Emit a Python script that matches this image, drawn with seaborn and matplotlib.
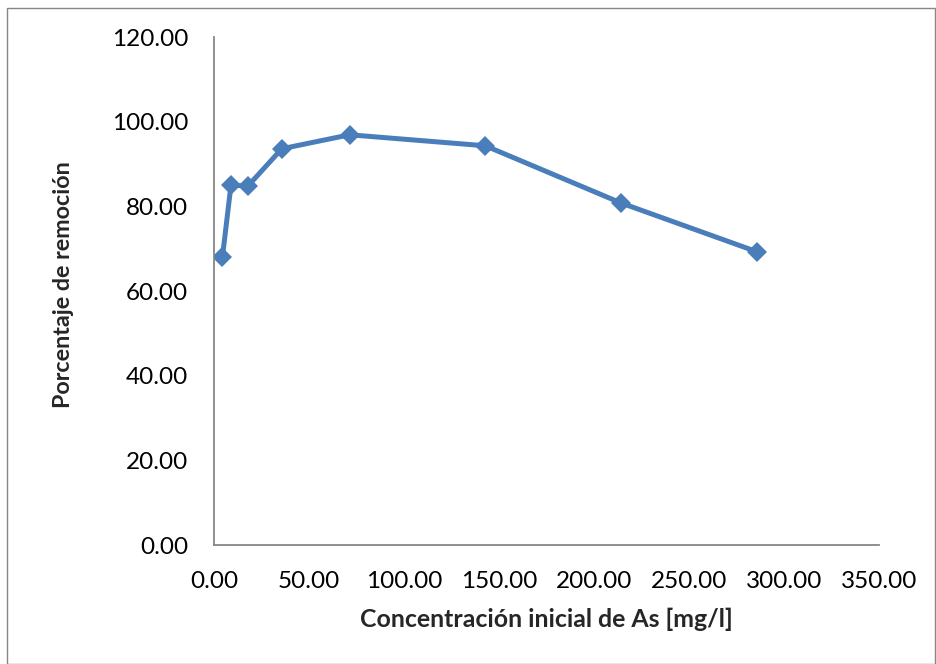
import matplotlib
matplotlib.use("Agg")
import matplotlib.pyplot as plt
from matplotlib.patches import Rectangle
from matplotlib.ticker import FuncFormatter, MultipleLocator
import seaborn as sns
import pandas as pd

# Initial arsenic concentration [mg/l] and removal percentage
concentracion = [4.46, 8.93, 17.85, 35.7, 71.4, 142.8, 214.2, 285.6]
remocion = [68.1, 85.0, 84.8, 93.6, 96.9, 94.3, 80.8, 69.3]

x_label = "Concentración inicial de As [mg/l]"
y_label = "Porcentaje de remoción"

sns.set_style("white")
plt.rcParams["font.family"] = ["Lato", "DejaVu Sans"]

df = pd.DataFrame({"x": concentracion, "y": remocion})

W, H = 936, 664
x0, x1, y0, y1 = 214, 879, 545, 37
fig = plt.figure(figsize=(W / 100, H / 100), dpi=100)
ax = fig.add_axes([x0 / W, 1 - y0 / H, (x1 - x0) / W, (y0 - y1) / H])

sns.lineplot(data=df, x="x", y="y", ax=ax, color="#4A7EBB", linewidth=3.6,
             marker="D", markersize=10.5, markeredgewidth=0, sort=False)

ax.set_xlim(0, 350)
ax.set_ylim(0, 120)
ax.xaxis.set_major_locator(MultipleLocator(50))
ax.yaxis.set_major_locator(MultipleLocator(20))
fmt = FuncFormatter(lambda v, p: f"{v:.2f}")
ax.xaxis.set_major_formatter(fmt)
ax.yaxis.set_major_formatter(fmt)
ax.tick_params(axis="both", length=0, labelsize=17.5, colors="black")
ax.tick_params(axis="x", pad=18.5)
ax.tick_params(axis="y", pad=18.5)

for side in ("top", "right"):
    ax.spines[side].set_visible(False)
for side in ("left", "bottom"):
    ax.spines[side].set_color("#868686")
    ax.spines[side].set_linewidth(1.3)

ax.set_xlabel(x_label, fontsize=17.9, fontweight="bold")
ax.set_ylabel(y_label, fontsize=16.8, fontweight="bold")
ax.xaxis.set_label_coords(0.5, -(608 - y0) / (y0 - y1))
ax.yaxis.set_label_coords(-(x0 - 74) / (x1 - x0), 0.513)

# chart area border
fig.patches.append(Rectangle((7.5 / W, 0.5 / H), 927 / W, 656 / H,
                             transform=fig.transFigure, fill=False,
                             edgecolor="#868686", linewidth=1.0))

fig.savefig("out.png", dpi=100)
